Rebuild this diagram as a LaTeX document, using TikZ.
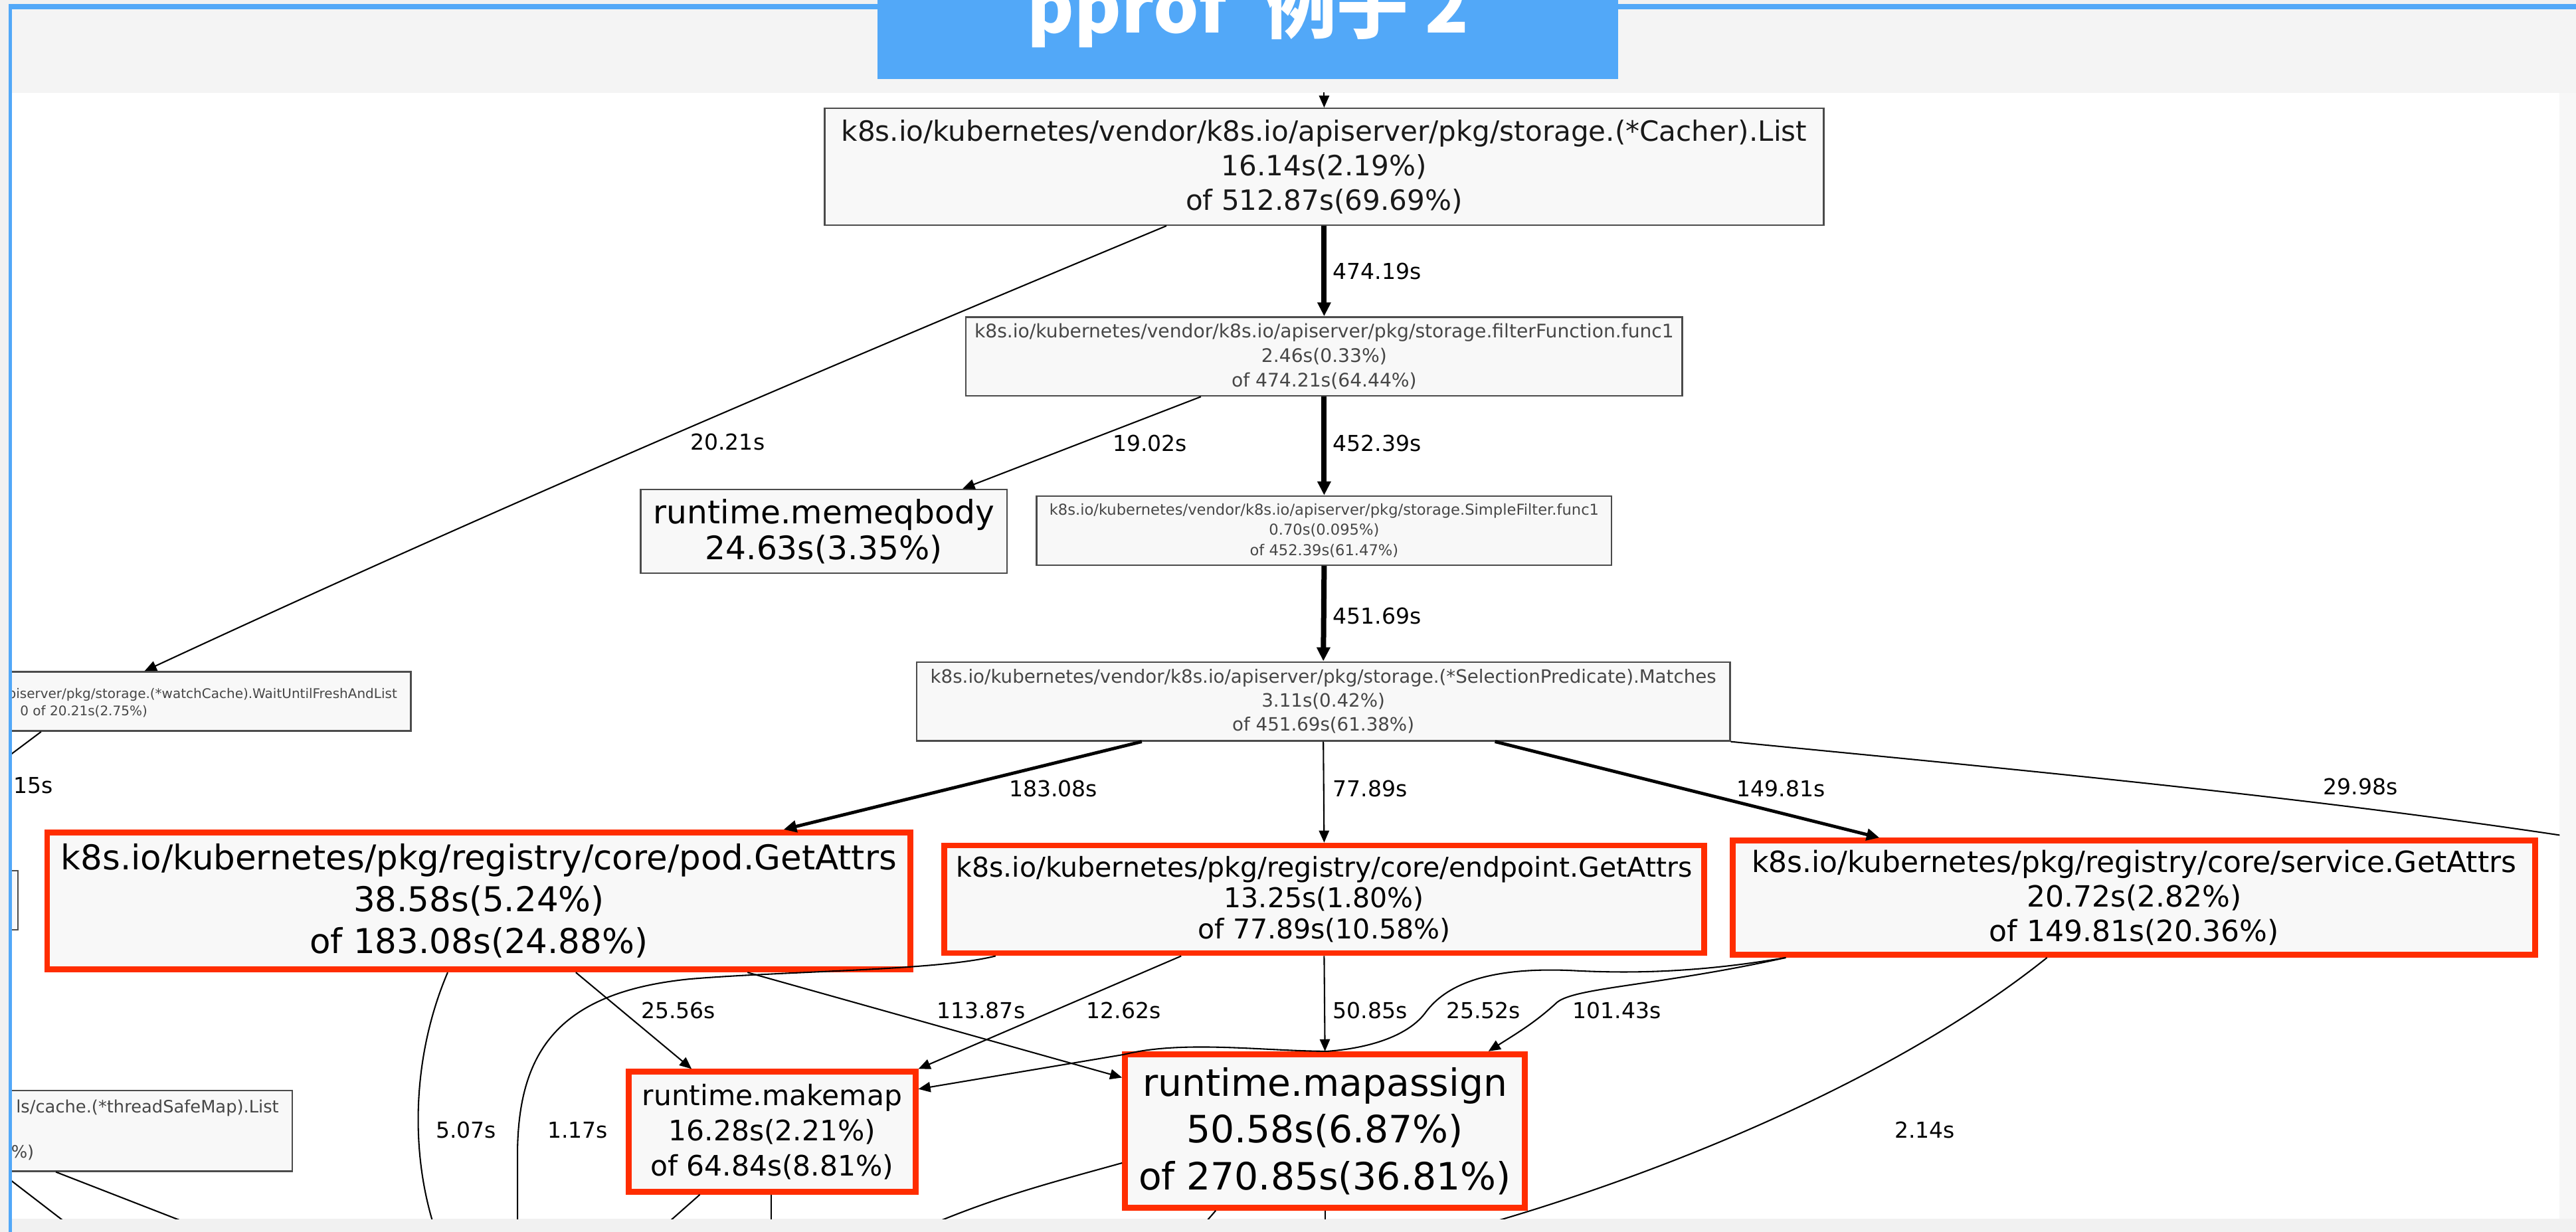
\documentclass[tikz,border=0pt]{standalone}
\usepackage{fontspec}
\setmainfont{DejaVu Sans}
\newfontfamily\cjkfont{Noto Sans CJK SC}
\usetikzlibrary{arrows.meta}
\definecolor{pblue}{RGB}{82,168,248}
\definecolor{pred}{RGB}{255,45,0}
\definecolor{pfill}{RGB}{248,248,248}
\definecolor{pborder}{RGB}{75,75,75}
\definecolor{pgraytext}{RGB}{70,70,70}
\definecolor{outergray}{RGB}{241,241,241}
\definecolor{headgray}{RGB}{244,244,244}
\definecolor{rightgray}{RGB}{247,247,247}
\newcommand\pxu{0.025cm}
\begin{document}
\begin{tikzpicture}[x=0.025cm,y=-0.025cm,
  box/.style={draw=pborder, line width=0.7pt, fill=pfill, rectangle, inner sep=0pt, align=center},
  redbox/.style={draw=pred, line width=2.5pt, fill=pfill, rectangle, inner sep=0pt, align=center, text=black},
  elabel/.style={anchor=west, inner sep=0pt, font=\fontsize{9.5}{11}\selectfont},
  conn/.style={draw=black, line width=0.6pt, -{Triangle[length=5.2pt,width=4.4pt]}},
  plainconn/.style={draw=black, line width=0.6pt},
  thickconn/.style={draw=black, line width=2.3pt, -{Triangle[length=6pt,width=5.6pt]}},
  medconn/.style={draw=black, line width=1.4pt, -{Triangle[length=5.6pt,width=5pt]}},
  cut/.style={inner sep=0pt, text=pgraytext}
]
\useasboundingbox (0,0) rectangle (1568,750);
\fill[outergray] (0,0) rectangle (1568,750);
\fill[headgray] (7,5) rectangle (1568,56.6);
\fill[rightgray] (1558,56.6) rectangle (1568,742);
\fill[white] (7,56.6) rectangle (1558,742);

\begin{scope}
\clip (7,56.6) rectangle (1558,742);
% nodes
\node[box, minimum width=608*\pxu, minimum height=71*\pxu, font=\fontsize{12.1}{14.9}\selectfont, text=black!90] (cacher) at (806,101.5)
  {k8s.io/kubernetes/vendor/k8s.io/apiserver/pkg/storage.(*Cacher).List\\16.14s(2.19\%)\\of 512.87s(69.69\%)};
\node[box, minimum width=436*\pxu, minimum height=48*\pxu, font=\fontsize{8.1}{10.7}\selectfont, text=pgraytext] (filter) at (806,217)
  {k8s.io/kubernetes/vendor/k8s.io/apiserver/pkg/storage.filterFunction.func1\\2.46s(0.33\%)\\of 474.21s(64.44\%)};
\node[box, minimum width=223*\pxu, minimum height=51*\pxu, font=\fontsize{14}{15.6}\selectfont, text=black] (memeq) at (501.5,323.5)
  {runtime.memeqbody\\24.63s(3.35\%)};
\node[box, minimum width=350*\pxu, minimum height=42*\pxu, font=\fontsize{6.5}{8.9}\selectfont, text=pgraytext] (simple) at (806,323)
  {k8s.io/kubernetes/vendor/k8s.io/apiserver/pkg/storage.SimpleFilter.func1\\0.70s(0.095\%)\\of 452.39s(61.47\%)};
\node[box, minimum width=495*\pxu, minimum height=48*\pxu, font=\fontsize{7.96}{10.3}\selectfont, text=pgraytext] (matches) at (805.5,427)
  {k8s.io/kubernetes/vendor/k8s.io/apiserver/pkg/storage.(*SelectionPredicate).Matches\\3.11s(0.42\%)\\of 451.69s(61.38\%)};
\node[box, minimum width=398*\pxu, minimum height=36*\pxu] (wait) at (51,427) {};
\node[cut, anchor=east, font=\fontsize{5.75}{7}\selectfont] (waitname) at (242,423) {piserver/pkg/storage.(*watchCache).WaitUntilFreshAndList};
\node[cut, font=\fontsize{5.75}{7}\selectfont] (waitval) at (51,433) {0 of 20.21s(2.75\%)};
\node[box, minimum width=61*\pxu, minimum height=36*\pxu] (leftbox) at (-19.5,548) {};
\node[box, minimum width=278*\pxu, minimum height=49*\pxu] (tsm) at (39,688.5) {};
\node[cut, anchor=east, font=\fontsize{7.4}{9}\selectfont] (tsmname) at (170,674.5) {ls/cache.(*threadSafeMap).List};
\node[cut, anchor=west, font=\fontsize{7.4}{9}\selectfont] (tsmval) at (6.5,701.6) {\%)};

\node[redbox, minimum width=525.5*\pxu, minimum height=83.5*\pxu, font=\fontsize{14.8}{18.1}\selectfont] (pod) at (291.5,548.5)
  {k8s.io/kubernetes/pkg/registry/core/pod.GetAttrs\\38.58s(5.24\%)\\of 183.08s(24.88\%)};
\node[redbox, minimum width=462.5*\pxu, minimum height=65.5*\pxu, font=\fontsize{11.8}{13.5}\selectfont] (endpoint) at (806,547.5)
  {k8s.io/kubernetes/pkg/registry/core/endpoint.GetAttrs\\13.25s(1.80\%)\\of 77.89s(10.58\%)};
\node[redbox, minimum width=488.5*\pxu, minimum height=69.5*\pxu, font=\fontsize{12.66}{14.9}\selectfont] (service) at (1299,546.5)
  {k8s.io/kubernetes/pkg/registry/core/service.GetAttrs\\20.72s(2.82\%)\\of 149.81s(20.36\%)};
\node[redbox, minimum width=174.5*\pxu, minimum height=73*\pxu, font=\fontsize{12.2}{15.3}\selectfont] (makemap) at (470,689)
  {runtime.makemap\\16.28s(2.21\%)\\of 64.84s(8.81\%)};
\node[redbox, minimum width=243.5*\pxu, minimum height=93.5*\pxu, font=\fontsize{16.3}{20.3}\selectfont] (mapassign) at (806.5,688.5)
  {runtime.mapassign\\50.58s(6.87\%)\\of 270.85s(36.81\%)};

% free ends
\coordinate (topin) at (806,45);
\coordinate (rightout) at (1575,511);
\coordinate (waitout) at (-5,468);
\coordinate (out214) at (880,752);
\coordinate (out507) at (266,752);
\coordinate (out117) at (315,752);
\coordinate (outmm1) at (398,752);
\coordinate (outmm2) at (469.5,752);
\coordinate (outma1) at (727,752);
\coordinate (outma2) at (806.7,752);
\coordinate (outma3) at (552,752);
\coordinate (outts1) at (133,752);
\coordinate (outts2) at (50,752);

% edges
\draw[conn] (topin) -- (cacher.north);
\draw[thickconn] (cacher.south) -- (filter.north);
\draw[conn] (cacher.south -| 710,0) .. controls (500,225) and (300,310) .. (wait.north -| 88,0);
\draw[conn] (filter.south -| 731,0) -- (memeq.north -| 586,0);
\draw[thickconn] (filter.south) -- (simple.north);
\draw[thickconn] (simple.south) -- (matches.north);
\draw[medconn] (matches.south -| 695,0) -- (pod.north -| 477,0);
\draw[conn] (matches.south) -- (endpoint.north);
\draw[medconn] (matches.south -| 910,0) -- (service.north -| 1144,0);
\draw[plainconn] (matches.south east) .. controls (1200,466) and (1400,484) .. (rightout);
\draw[plainconn] (wait.south -| 25,0) -- (waitout);

\draw[conn] (pod.south -| 350.5,0) -- (makemap.north -| 421,0);
\draw[conn] (pod.south -| 455,0) -- (mapassign.west |- 0,656);
\draw[conn] (endpoint.south -| 719,0) -- (makemap.north east);
\draw[conn] (endpoint.south) -- (mapassign.north);
\draw[conn] (service.south -| 1087,0) .. controls (1010,600) and (960,601) .. (948,610)
   .. controls (935,622) and (925,628) .. (mapassign.north -| 906,0);
\draw[conn] (service.south -| 1087,0) .. controls (1040,591) and (1000,593) .. (960,591)
   .. controls (905,588) and (880,600) .. (868,616)
   .. controls (858,630) and (835,638) .. (808,640)
   .. controls (770,640) and (720,633) .. (684,642) -- (makemap.east |- 0,663);
\draw[plainconn] (service.south -| 1246,0) .. controls (1150,660) and (1000,720) .. (out214);
\draw[plainconn] (pod.south -| 272.5,0) .. controls (252,640) and (248,700) .. (out507);
\draw[plainconn] (endpoint.south -| 606,0) .. controls (570,591) and (480,591) .. (420,596)
   .. controls (340,604) and (316,640) .. (315,700) -- (out117);
\draw[plainconn] (makemap.south -| 426,0) -- (outmm1);
\draw[plainconn] (makemap.south -| 469.5,0) -- (outmm2);
\draw[plainconn] (mapassign.south -| 740,0) -- (outma1);
\draw[plainconn] (mapassign.south -| 806.7,0) -- (outma2);
\draw[plainconn] (mapassign.west |- 0,708) .. controls (640,720) and (600,730) .. (outma3);
\draw[plainconn] (tsm.south -| 34,0) -- (outts1);
\draw[plainconn] (tsm.south -| 0,0) -- (outts2);

% edge labels
\node[elabel] (l1) at (811,165) {474.19s};
\node[elabel] (l2) at (677,270) {19.02s};
\node[elabel] (l3) at (811,270) {452.39s};
\node[elabel] (l4) at (420,269) {20.21s};
\node[elabel] (l5) at (811,375) {451.69s};
\node[elabel] (l6) at (8,478) {15s};
\node[elabel] (l7) at (614,480) {183.08s};
\node[elabel] (l8) at (811,480) {77.89s};
\node[elabel] (l9) at (1057,480) {149.81s};
\node[elabel] (l10) at (1414,479) {29.98s};
\node[elabel] (l11) at (390,615) {25.56s};
\node[elabel] (l12) at (570,615) {113.87s};
\node[elabel] (l13) at (661,615) {12.62s};
\node[elabel] (l14) at (811,615) {50.85s};
\node[elabel] (l15) at (880,615) {25.52s};
\node[elabel] (l16) at (957,615) {101.43s};
\node[elabel] (l17) at (265,688) {5.07s};
\node[elabel] (l18) at (333,688) {1.17s};
\node[elabel] (l19) at (1153,688) {2.14s};
\end{scope}

% frame
\fill[pblue] (5.3,2.4) rectangle (1568,5.7);
\fill[pblue] (5.3,2.4) rectangle (7.2,750);
\node[fill=pblue, minimum width=451*\pxu, minimum height=48*\pxu, inner sep=0pt, outer sep=0pt, anchor=north west] (titlebox) at (534,0) {};
\begin{scope}
\clip (0,0) rectangle (1568,750);
\node[inner sep=0pt, anchor=base, text=white, font=\cjkfont\bfseries\fontsize{31}{33}\selectfont] (title) at (759.5,20) {pprof\hspace{0.3em} 例子 2};
\end{scope}
\end{tikzpicture}
\end{document}
